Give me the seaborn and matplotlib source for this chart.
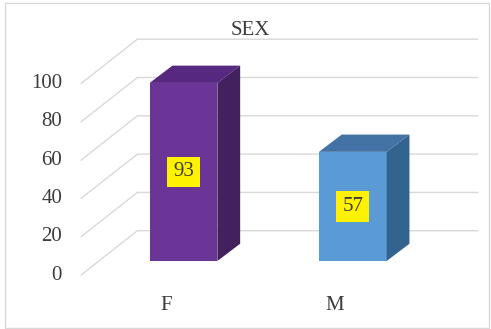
import matplotlib
matplotlib.use("Agg")
import matplotlib.pyplot as plt
import seaborn as sns
from matplotlib.patches import Polygon, Rectangle

# Chart data
categories = ["F", "M"]
counts = [93, 57]
y_ticks = [0, 20, 40, 60, 80, 100]
tick_labels = ["0", "20", "40", "60", "80", "100"]
title = "SEX"

# Face colours for the 3-D columns
front_colors = ["#6A3596", "#5B9BD5"]
top_colors = ["#57287F", "#4373A5"]
side_colors = ["#43215F", "#33638F"]
grid_color = "#D9D9D9"
text_color = "#3C3C3C"
FONT_SIZE = 15

sns.set_theme(style="white")
plt.rcParams["font.family"] = ["Liberation Serif", "DejaVu Serif"]

DPI = 100
fig = plt.figure(figsize=(4.91, 3.29), dpi=DPI)
fig.patch.set_facecolor("white")
ax = fig.add_axes([0, 0, 1, 1])

sns.barplot(x=categories, y=counts, hue=categories, palette=front_colors,
            width=0.4, saturation=1, legend=False, ax=ax, zorder=3,
            edgecolor="none")
ax.set_xlim(-1.0839, 1.8163)
ax.set_ylim(-35.5, 136.3)
ax.axis("off")

# Depth vectors in pixels (x right, y up)
BAR_DEPTH = (22.8, 17.3)
FRONT_EDGE = (-17.8, -14.0)
BACK_WALL = (38.5, 30.3)


def shifted(x, y, d):
    px, py = ax.transData.transform((x, y))
    return tuple(ax.transData.inverted().transform((px + d[0], py + d[1])))


# Perspective grid: floor/side diagonals and back-wall lines
left, right = -0.5, 1.51
for v in y_ticks:
    p_front = shifted(left, v, FRONT_EDGE)
    p_back = shifted(left, v, BACK_WALL)
    p_right = shifted(right, v, BACK_WALL)
    ax.plot([p_front[0], p_back[0], p_right[0]],
            [p_front[1], p_back[1], p_right[1]],
            color=grid_color, lw=1.0, zorder=1, solid_joinstyle="miter")

# Tick labels placed along the front edge
for v, lab in zip(y_ticks, tick_labels):
    tx, ty = shifted(left, v, (FRONT_EDGE[0] - 19, FRONT_EDGE[1]))
    ax.text(tx, ty, lab, ha="right", va="center", fontsize=FONT_SIZE,
            color=text_color)

# Top and side faces for each column
bars = [b for cont in ax.containers for b in cont]
for bar, tc, sc, val in zip(bars, top_colors, side_colors, counts):
    x0 = bar.get_x()
    w = bar.get_width()
    h = bar.get_height()
    top = [(x0, h), (x0 + w, h), shifted(x0 + w, h, BAR_DEPTH),
           shifted(x0, h, BAR_DEPTH)]
    side = [(x0 + w, 0), (x0 + w, h), shifted(x0 + w, h, BAR_DEPTH),
            shifted(x0 + w, 0, BAR_DEPTH)]
    ax.add_patch(Polygon(top, closed=True, facecolor=tc, edgecolor="none",
                         zorder=3))
    ax.add_patch(Polygon(side, closed=True, facecolor=sc, edgecolor="none",
                         zorder=3))
    # value label in a yellow box at mid-height of the column
    ax.text(x0 + w / 2, h / 2, str(val), ha="center", va="center",
            fontsize=FONT_SIZE, color=text_color, zorder=5,
            bbox=dict(boxstyle="square,pad=0.28", fc="#FFF200", ec="none"))

# Category labels below the front edge
for i, cat in enumerate(categories):
    lx, ly = shifted(i, 0, (FRONT_EDGE[0], -44))
    ax.text(lx, ly, cat, ha="center", va="center", fontsize=FONT_SIZE,
            color=text_color)

fig.text(250 / 491, 1 - 30.7 / 329, title, ha="center", va="center",
         fontsize=FONT_SIZE, color=text_color)

# Outer chart frame
fig.add_artist(Rectangle((4.5 / 491, 1.5 / 329), 484.5 / 491, 325 / 329,
                         transform=fig.transFigure, fill=False,
                         edgecolor=grid_color, lw=1.0))

fig.savefig("out.png", dpi=DPI)
